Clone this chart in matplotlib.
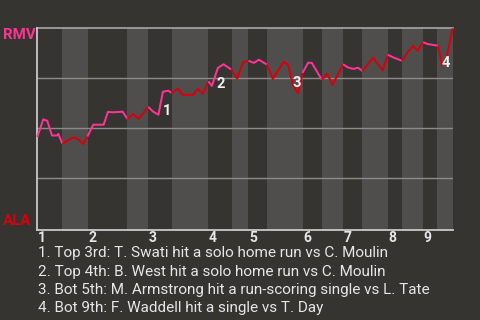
import matplotlib
matplotlib.use("Agg")
import matplotlib.pyplot as plt
import numpy as np

# ---- data (x = game progress units, y = RMV win probability) ----
top_starts = [0, 51, 111, 171, 211, 266, 306, 351, 386]
bot_starts = [25, 90, 135, 195, 230, 285, 325, 365, 400]
game_end = 416
inning_labels = ["1", "2", "3", "4", "5", "6", "7", "8", "9"]

prog = [0, 6, 10, 14.7, 19.7, 21, 25.2, 31, 36.9, 41.4, 45.7, 50.2, 56, 66.4,
        70.7, 75.7, 85.4, 90.2, 96, 101.4, 111, 116, 121.2, 125.7, 131.2,
        134.4, 141, 145.4, 156, 160.7, 165.7, 171.2, 174.7, 180.7, 186.4, 194,
        200, 205.7, 211.4, 216.7, 221.7, 229.7, 235.7, 246.5, 251, 255.7, 261,
        265.4, 271, 274.7, 284.7, 290.2, 295.4, 306, 311, 316.4, 321, 325.4,
        336, 345.7, 350.7, 356.4, 365, 371, 376, 380.7, 386, 391, 401, 405,
        409.4, 415.7]
wp = [0.457, 0.545, 0.537, 0.464, 0.464, 0.472, 0.422, 0.442, 0.455, 0.443,
      0.422, 0.459, 0.518, 0.518, 0.582, 0.580, 0.583, 0.547, 0.571, 0.547,
      0.607, 0.583, 0.568, 0.683, 0.688, 0.677, 0.698, 0.667, 0.667, 0.698,
      0.672, 0.735, 0.712, 0.802, 0.820, 0.794, 0.748, 0.829, 0.838, 0.827,
      0.843, 0.819, 0.747, 0.833, 0.817, 0.717, 0.675, 0.777, 0.828, 0.827,
      0.743, 0.773, 0.717, 0.820, 0.804, 0.797, 0.803, 0.787, 0.853, 0.789,
      0.868, 0.854, 0.838, 0.883, 0.912, 0.888, 0.930, 0.921, 0.913, 0.815,
      0.854, 1.0]

event_idx = [22, 32, 45, 69]
event_labels = ["1", "2", "3", "4"]
event_texts = [
    "1. Top 3rd: T. Swati hit a solo home run vs C. Moulin",
    "2. Top 4th: B. West hit a solo home run vs C. Moulin",
    "3. Bot 5th: M. Armstrong hit a run-scoring single vs L. Tate",
    "4. Bot 9th: F. Waddell hit a single vs T. Day",
]
team_top = "RMV"
team_bottom = "ALA"

# ---- style ----
BG = "#363431"
BAND = "#4f4e4c"
PINK = "#ff3394"
RED = "#d8000c"
TXT = "#e6e6e6"
plt.rcParams["font.family"] = ["Roboto", "DejaVu Sans"]

W, H = 480, 320
fig = plt.figure(figsize=(4.8, 3.2), dpi=100, facecolor=BG)
ax = fig.add_axes([37.3 / W, 1 - 230 / H, (453 - 37.3) / W, (230 - 28.3) / H])
ax.set_facecolor(BG)
ax.set_xlim(0, game_end)
ax.set_ylim(-0.0085, 1.0)

# bands for bottom halves
ends = top_starts[1:] + [game_end]
for b, e in zip(bot_starts, ends):
    ax.axvspan(b, e, color=BAND, lw=0, zorder=0)

# gridlines
for g in [0.25, 0.5, 0.75]:
    ax.axhline(g, color="#8c8b89", lw=1.0, zorder=1)
ax.axhline(1.0, color="#a9a8a6", lw=1.2, zorder=1, clip_on=False)

for s in ["top", "right"]:
    ax.spines[s].set_visible(False)
for s in ["left", "bottom"]:
    ax.spines[s].set_color("#c9c9c9")
    ax.spines[s].set_linewidth(1.3)
ax.set_xticks([])
ax.set_yticks([])

# half-inning edges: sorted list of (start, is_top)
halves = sorted([(s, True) for s in top_starts] + [(s, False) for s in bot_starts])


def seg_color(xm):
    cur = True
    for s, is_top in halves:
        if s <= xm:
            cur = is_top
    return PINK if cur else RED


xs = np.asarray(prog, dtype=float)
ys = np.asarray(wp, dtype=float)
colors = [seg_color(0.5 * (xs[i] + xs[i + 1])) for i in range(len(xs) - 1)]

runs = []
run_start = 0
for i in range(1, len(colors)):
    if colors[i] != colors[run_start]:
        runs.append((run_start, i, colors[run_start]))
        run_start = i
runs.append((run_start, len(colors), colors[run_start]))

for a, b, c in runs:
    ax.plot(xs[a:b + 1], ys[a:b + 1], color=c, lw=1.45,
            solid_joinstyle="round", solid_capstyle="butt", zorder=3,
            clip_on=False)

# event markers
offsets_px = [(4, 0), (5, -2), (0, -2), (0, -2)]
for idx, lab, (dx, dy) in zip(event_idx, event_labels, offsets_px):
    ax.annotate(lab, (xs[idx], ys[idx]), xytext=(dx * 0.72, dy * 0.72),
                textcoords="offset points", ha="left", va="baseline",
                color="#f0f0f0", fontsize=10.5, fontweight="bold", zorder=5)

# inning labels
for s, lab in zip(top_starts, inning_labels):
    ax.annotate(lab, (s, 0), xytext=(0.5, -8.5), textcoords="offset points",
                xycoords=("data", "axes fraction"), ha="left", va="baseline",
                color=TXT, fontsize=10, fontweight="bold")

# team labels
fig.text(3 / W, 1 - 28.3 / H, team_top, ha="left", va="top", color=PINK,
         fontsize=10.8, fontweight="bold")
fig.text(3 / W, 1 - 225 / H, team_bottom, ha="left", va="baseline",
         color=RED, fontsize=10.8, fontweight="bold")

# event descriptions
for k, t in enumerate(event_texts):
    fig.text(38 / W, 1 - (257.5 + 18.1 * k) / H, t, ha="left", va="baseline",
             color=TXT, fontsize=11)

fig.savefig("out.png", dpi=100, facecolor=BG)
